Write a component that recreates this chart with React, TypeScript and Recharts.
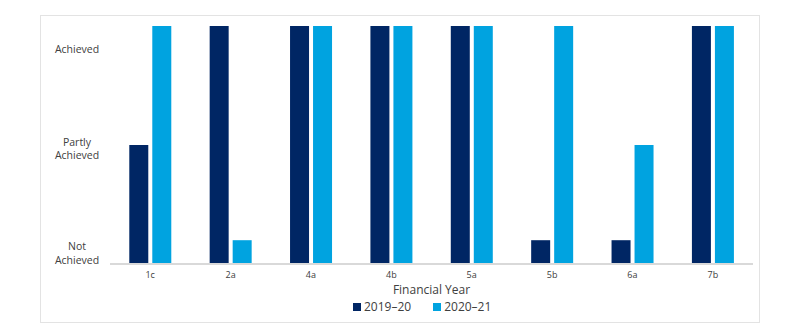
import { BarChart, Bar, XAxis, YAxis, Legend } from 'recharts';

// 10 = Achieved, 5 = Partly Achieved, 1 = Not Achieved
const categories = ['1c', '2a', '4a', '4b', '5a', '5b', '6a', '7b'];
const fy2019 = [5, 10, 10, 10, 10, 1, 1, 10];
const fy2020 = [10, 1, 10, 10, 10, 10, 5, 10];

const yTickValues = [0.4, 4.8, 9];
const yTickLabels: Record<string, string[]> = {
  '0.4': ['Not', 'Achieved'],
  '4.8': ['Partly', 'Achieved'],
  '9': ['Achieved'],
};

const seriesNames = ['2019–20', '2020–21'];
const seriesColors = ['#002664', '#00A3E0'];

const data = categories.map((c, i) => ({ name: c, y2019: fy2019[i], y2020: fy2020[i] }));

const FONT = '"Open Sans", sans-serif';
const TEXT = '#404040';
const LINE_GAP = 13.6;

function YTick(props: any) {
  const { y, payload } = props;
  const lines = yTickLabels[String(payload.value)] || [];
  const start = y - ((lines.length - 1) * LINE_GAP) / 2;
  return (
    <text x={77} y={start} textAnchor="middle" fontSize={10.5} fill={TEXT} fontFamily={FONT}>
      {lines.map((l, i) => (
        <tspan key={i} x={77} y={start + i * LINE_GAP} dominantBaseline="middle">
          {l}
        </tspan>
      ))}
    </text>
  );
}

function LegendBox() {
  return (
    <div
      style={{
        display: 'flex',
        alignItems: 'center',
        height: 19,
        fontSize: 12,
        color: TEXT,
        fontFamily: FONT,
        whiteSpace: 'nowrap',
      }}
    >
      {seriesNames.map((n, i) => (
        <div key={n} style={{ display: 'flex', alignItems: 'center', marginRight: 22, flexShrink: 0 }}>
          <span style={{ width: 8, height: 8, background: seriesColors[i], marginRight: 3, display: 'inline-block' }} />
          <span>{n}</span>
        </div>
      ))}
    </div>
  );
}

export default function App() {
  return (
    <div style={{ position: 'relative', width: 796, height: 332, margin: -8, background: '#fff' }}>
      <div
        style={{
          position: 'absolute',
          left: 40,
          top: 15,
          width: 718,
          height: 306,
          border: '1px solid #e3e3e3',
        }}
      />
      <BarChart
        width={796}
        height={332}
        data={data}
        margin={{ top: 26, right: 43, bottom: 16, left: 0 }}
        barCategoryGap="24%"
        barGap={4}
        style={{ position: 'absolute', left: 0, top: 0, fontFamily: FONT }}
      >
        <XAxis
          dataKey="name"
          height={33}
          tickLine={false}
          axisLine={{ stroke: '#d9d9d9', strokeWidth: 2 }}
          tick={{ fontSize: 9, fill: TEXT }}
          label={{ value: 'Financial Year', position: 'insideBottom', offset: 3, fontSize: 12, fill: TEXT }}
        />
        <YAxis
          width={110}
          domain={[0, 10]}
          ticks={yTickValues}
          axisLine={false}
          tickLine={false}
          tick={<YTick />}
        />
        <Legend
          verticalAlign="bottom"
          content={<LegendBox />}
          wrapperStyle={{ left: 353, width: 220 }}
        />
        <Bar dataKey="y2019" name={seriesNames[0]} fill={seriesColors[0]} isAnimationActive={false} />
        <Bar dataKey="y2020" name={seriesNames[1]} fill={seriesColors[1]} isAnimationActive={false} />
      </BarChart>
    </div>
  );
}
